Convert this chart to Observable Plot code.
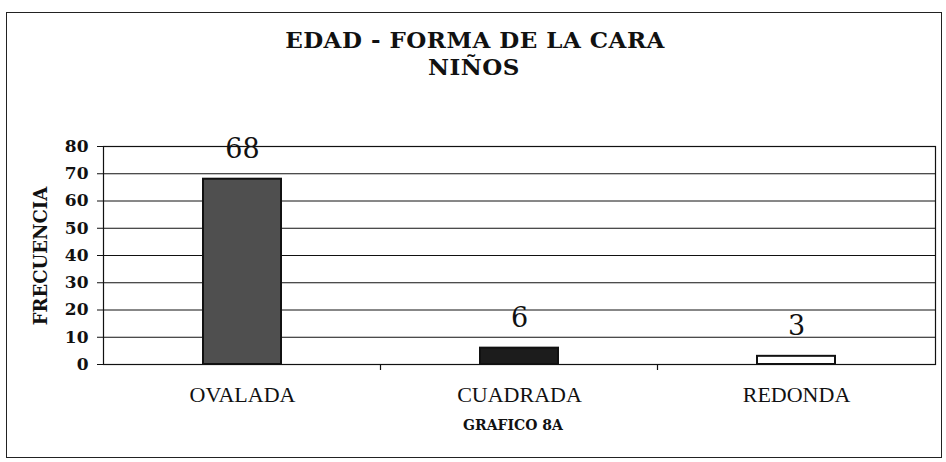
<!DOCTYPE html>
<html><head><meta charset="utf-8">
<script src="https://cdn.jsdelivr.net/npm/d3@7"></script>
<script src="https://cdn.jsdelivr.net/npm/@observablehq/plot@0.6"></script>
<style>
html,body{margin:0;padding:0;background:#fff;}
#wrap{position:relative;width:946px;height:462px;overflow:hidden;background:#fff;}
#border{position:absolute;left:6px;top:12px;width:936px;height:446px;border:1px solid #222;box-sizing:border-box;}
.t{position:absolute;left:0;width:946px;text-align:center;font-family:"DejaVu Serif";font-weight:bold;color:#111;white-space:nowrap;}
#chart{position:absolute;left:0;top:0;}
#ylab{position:absolute;left:40px;top:256px;transform:translate(-50%,-50%) rotate(-90deg);font-family:"DejaVu Serif";font-weight:bold;font-size:18px;color:#111;white-space:nowrap;}
#chart svg{overflow:visible;}
</style>
</head><body>
<div id="wrap">
  <div id="border"></div>
  <div id="chart"></div>
  <div class="t" id="t1" style="top:26px;font-size:23px;line-height:28px;letter-spacing:0.5px;left:2px;"></div>
  <div class="t" id="t2" style="top:53px;font-size:23px;line-height:28px;letter-spacing:0.5px;left:1px;"></div>
  <div id="ylab"></div>
  <div class="t" id="cap" style="top:416px;font-size:14px;line-height:18px;left:40px;"></div>
</div>
<script>
const titleLine1 = "EDAD - FORMA DE LA CARA";
const titleLine2 = "NIÑOS";
const yLabel = "FRECUENCIA";
const caption = "GRAFICO 8A";
const categories = ["OVALADA", "CUADRADA", "REDONDA"];
const values = [68, 6, 3];
const fills = ["#4f4f4f", "#1c1c1c", "#ffffff"];
const yTicks = [0, 10, 20, 30, 40, 50, 60, 70, 80];

document.getElementById("t1").textContent = titleLine1;
document.getElementById("t2").textContent = titleLine2;
document.getElementById("ylab").textContent = yLabel;
document.getElementById("cap").textContent = caption;

const data = categories.map((c, i) => ({cat: c, value: values[i], fill: fills[i]}));

const plot = Plot.plot({
  width: 946,
  height: 462,
  marginLeft: 103,
  marginRight: 11,
  marginTop: 146,
  marginBottom: 98,
  style: {background: "transparent", color: "#111"},
  x: {domain: categories, paddingInner: 0.72, paddingOuter: 0.36, label: null},
  y: {domain: [0, 80], label: null},
  marks: [
    Plot.gridY(yTicks, {stroke: "#111", strokeOpacity: 1, strokeWidth: 1}),
    Plot.frame({stroke: "#111", strokeWidth: 1.2}),
    Plot.barY(data, {x: "cat", y: "value", fill: "fill", stroke: "#111", strokeWidth: 2}),
    Plot.text(data, {x: "cat", y: "value", text: d => String(d.value), dy: -30,
      fontSize: 27, fontFamily: "DejaVu Serif", fill: "#111"}),
    Plot.axisY(yTicks, {tickSize: 6, tickPadding: 9, fontSize: 17, fontFamily: "DejaVu Serif",
      fontWeight: "bold", label: null, stroke: "#111"}),
    Plot.axisX({tickSize: 0, tickPadding: 22, fontSize: 22, fontFamily: "Liberation Serif", label: null})
  ]
});
document.getElementById("chart").appendChild(plot);

// category boundary ticks (Excel style), from the plot's own scales
const xs = plot.scale("x"), ys = plot.scale("y");
const y0 = ys.apply(0);
const gap = (xs.step - xs.bandwidth) / 2;
const svg = d3.select(plot);
categories.slice(1).forEach(c => {
  const bx = xs.apply(c) - gap;
  svg.append("line").attr("x1", bx).attr("x2", bx).attr("y1", y0).attr("y2", y0 + 6)
    .attr("stroke", "#111").attr("stroke-width", 1.2);
});
</script>
</body></html>
